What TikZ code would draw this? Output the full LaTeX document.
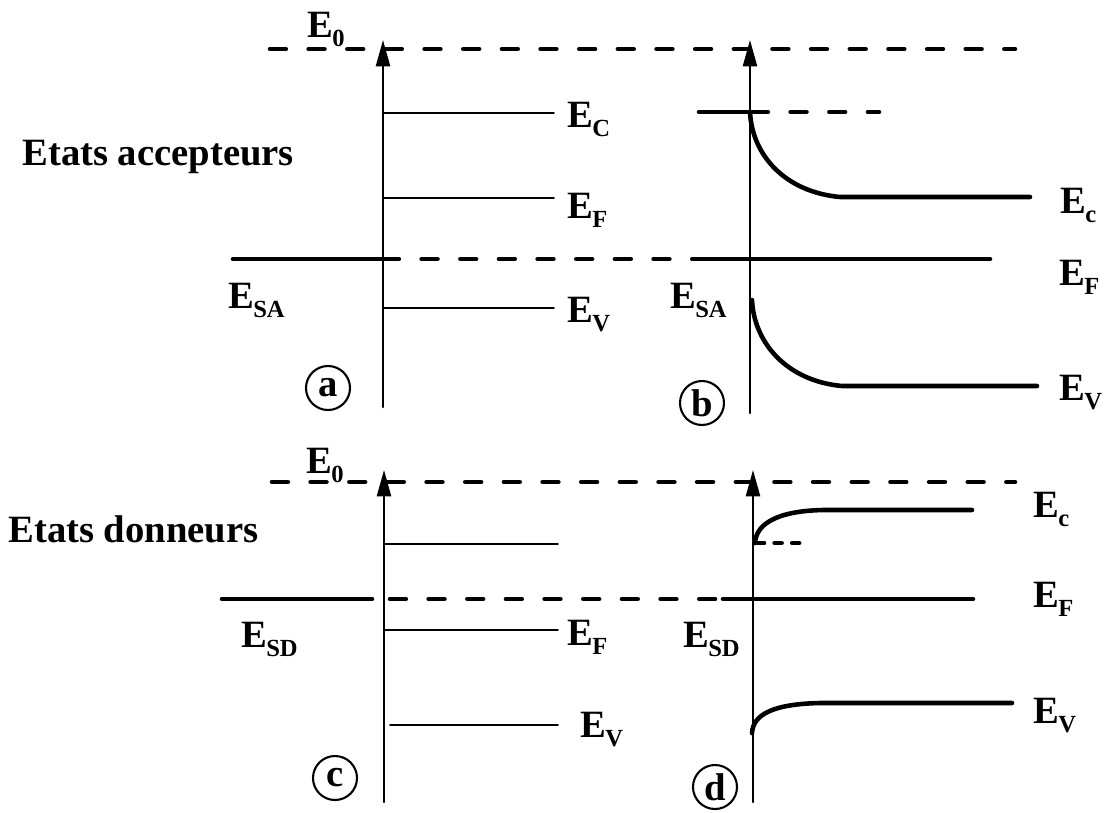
\documentclass[tikz,border=0pt]{standalone}
\usepackage{fontspec}
\setmainfont{Liberation Serif}
\usetikzlibrary{arrows.meta}
\newcommand{\niv}[1]{E\kern-0.5pt\raisebox{-5.5pt}{\fontsize{14}{14}\selectfont #1}}
\begin{document}
\begin{tikzpicture}[line cap=round,line join=round,x=0.02cm,y=-0.02cm,
  axe/.style={line width=1.3pt,-{Triangle[length=15pt,width=8pt]}},
  fin/.style={line width=1.1pt},
  bande/.style={line width=2.6pt},
  tiret/.style={line width=2.6pt,dash pattern=on 9pt off 13pt},
  pointil/.style={line width=2.6pt,dash pattern=on 4pt off 6pt},
  lbl/.style={anchor=base west,inner sep=0pt,font=\fontsize{22}{24}\selectfont\bfseries},
  tag/.style={circle,draw,line width=1.2pt,minimum size=0.88cm,inner sep=0pt,font=\fontsize{22}{24}\selectfont\bfseries}]
      \useasboundingbox (0,0) rectangle (1109,812);
      % axes
      \foreach \x/\ya/\yb in {383/407/40,750/413/40,384/802/470,753/802/470}
      \draw[axe] (\x,\ya) -- (\x,\yb);
      % niveaux du vide
      \draw[tiret] (270,49) -- (1015,49);
      \draw[tiret] (272,482) -- (1015,482);
      % niveaux fins (a) et (c)
      \foreach \y in {113,198,308}
      \draw[fin] (383,\y) -- (554,\y);
      \foreach \xa/\y in {384/544,384/630,390/725}
      \draw[fin] (\xa,\y) -- (558,\y);
      % etats de surface accepteurs
      \draw[bande] (233,259) -- (383,259);
      \draw[tiret] (383,259) -- (710,259);
      \draw[bande] (710,259) -- (990,259);
      \draw[bande] (699,112) -- (752,112);
      \draw[tiret] (752,112) -- (879,112);
      \draw[bande] (750,112) .. controls (752,155) and (785,192) .. (840,197) -- (1030,197);
      \draw[bande] (752,300) .. controls (754,343) and (787,381) .. (842,386) -- (1037,386);
      % etats de surface donneurs
      \draw[bande] (222,599) -- (372,599);
      \draw[tiret] (390,599) -- (723,599);
      \draw[bande] (723,599) -- (973,599);
      \draw[bande] (755,543) .. controls (756,525) and (775,511) .. (823,510) -- (972,510);
      \draw[pointil] (757,543) -- (800,543);
      \draw[bande] (752,733) .. controls (753,715) and (772,704) .. (820,703) -- (1012,703);
      % textes
      \node[lbl] (acc) at (22,165) {Etats accepteurs};
      \node[lbl] (don) at (8,542) {Etats donneurs};
      \node[lbl] (e0a) at (307,37) {\niv{0}};
      \node[lbl] (eca) at (567,127) {\niv{C}};
      \node[lbl] (efa) at (567,218) {\niv{F}};
      \node[lbl] (eva) at (567,322) {\niv{V}};
      \node[lbl] (esa) at (228,308) {\niv{SA}};
      \node[lbl] (ecb) at (1060,213) {\niv{c}};
      \node[lbl] (efb) at (1059,285) {\niv{F}};
      \node[lbl] (evb) at (1059,400) {\niv{V}};
      \node[lbl] (esb) at (670,308) {\niv{SA}};
      \node[lbl] (e0c) at (306,473) {\niv{0}};
      \node[lbl] (esc) at (241,647) {\niv{SD}};
      \node[lbl] (efc) at (567,645) {\niv{F}};
      \node[lbl] (evc) at (580,737) {\niv{V}};
      \node[lbl] (ecd) at (1033,517) {\niv{c}};
      \node[lbl] (efd) at (1033,607) {\niv{F}};
      \node[lbl] (esd) at (683,647) {\niv{SD}};
      \node[lbl] (evd) at (1033,723) {\niv{V}};
      \node[tag] (ta) at (328,388) {a};
      \node[tag] (tb) at (702,403) {b};
      \node[tag] (tc) at (335,778) {c};
      \node[tag] (td) at (715,787) {d};
\end{tikzpicture}
\end{document}
